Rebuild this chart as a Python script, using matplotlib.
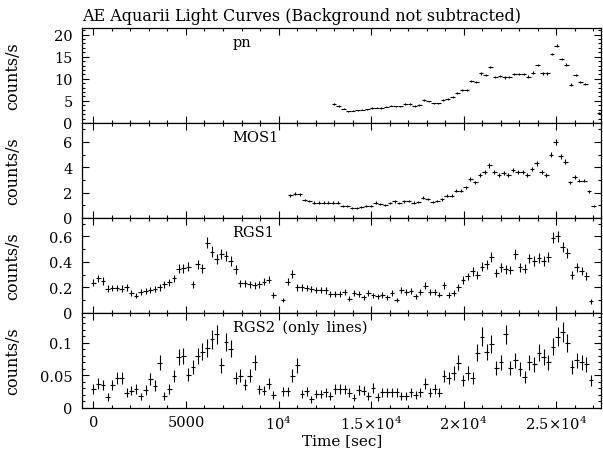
import numpy as np
import matplotlib
matplotlib.use("Agg")
import matplotlib.pyplot as plt
from matplotlib.ticker import MultipleLocator, FixedLocator

plt.rcParams['font.family'] = ['DejaVu Serif']
plt.rcParams['mathtext.fontset'] = 'dejavuserif'

nan = np.nan
BIN = 256.0  # s, bin width

# ---------------- data (count rates) ----------------
pn_first_bin = 50
pn_offset = 200.0
pn_rate = [4.3, 3.85, 3.2, 2.6, 2.75, 2.85, 3.0, 3.1, 3.4, 3.45, 3.4, 3.7, 3.9, 3.75,
           3.75, 4.3, 4.3, 3.85, 4.1, 5.2, 4.9, 4.45, 4.45, 5.15, 5.4, 5.8, 6.7, 7.5,
           7.4, 9.5, 9.2, 11.2, 10.8, 12.7, 10.4, 10.7, 10.3, 10.4, 11.15, 11.15, 11.15,
           10.5, 11.4, 13.1, 11.2, 11.2, 15.6, 17.5, 14.5, 13.2, 8.7, 10.8, 9.3, 8.85,
           nan, nan, 2.3]

mos1_first_bin = 41
mos1_offset = 145.0
mos1_rate = [1.8, 1.9, 1.85, 1.4, 1.35, 1.2, 1.2, 1.2, 1.2, 1.2, 1.2, 0.95, 0.95, 0.8,
             0.8, 0.85, 0.9, 0.9, 1.2, 1.1, 1.0, 1.15, 1.3, 1.15, 1.3, 1.35, 1.2, 1.25,
             1.6, 1.5, 1.25, 1.35, 1.45, 1.75, 1.75, 2.15, 2.15, 2.4, 3.1, 2.8, 3.4, 3.6,
             4.15, 3.6, 3.35, 3.55, 3.35, 3.75, 3.6, 3.6, 3.4, 3.85, 4.3, 3.6, 3.35, 5.0,
             6.0, 4.85, 4.45, 2.8, 3.25, 2.95, 2.95, 2.1, 0.95]

rgs1_first_bin = 0
rgs1_offset = 0.0
rgs1_rate = [0.235, 0.27, 0.25, 0.19, 0.195, 0.195, 0.19, 0.2, 0.155, 0.135, 0.16, 0.17,
             0.18, 0.185, 0.2, 0.225, 0.24, 0.27, 0.345, 0.35, 0.36, 0.225, 0.38, 0.35,
             0.55, 0.48, 0.42, 0.46, 0.445, 0.405, 0.34, 0.23, 0.23, 0.225, 0.215, 0.225,
             0.245, 0.26, 0.14, nan, 0.10, 0.245, 0.305, 0.2, 0.2, 0.195, 0.185, 0.18,
             0.18, 0.175, 0.15, 0.15, 0.15,
             0.16, 0.11, 0.153, 0.147, 0.12, 0.153, 0.137, 0.13, 0.14, 0.12, 0.153, 0.10,
             0.18, 0.163, 0.168, 0.13, 0.16, 0.213, 0.163, 0.166, 0.142, 0.216, 0.14,
             0.155, 0.2, 0.258, 0.285, 0.325, 0.3, 0.363, 0.38, 0.437, 0.31, 0.358, 0.342,
             0.337, 0.463, 0.358, 0.345, 0.426, 0.405, 0.432, 0.405, 0.437, 0.59, 0.6,
             0.516, 0.47, 0.3, 0.358, 0.326, 0.29, 0.09]

rgs2_first_bin = 0
rgs2_offset = 0.0
rgs2_rate = [0.029, 0.037, 0.035, 0.0165, 0.035, 0.046, 0.046, 0.023, 0.026, 0.029,
             0.0175, 0.027, 0.044, 0.034, 0.069, 0.0185, 0.029, 0.0485, 0.078, 0.079,
             0.051, 0.063, 0.080, 0.086, 0.092, 0.105, 0.113, 0.065, 0.1015, 0.091,
             0.046, 0.0495, 0.0355, 0.0495, 0.070, 0.028, 0.026, 0.037, 0.020, nan,
             0.025, 0.025, 0.0495, 0.065, 0.0215, 0.025, 0.013, 0.021, 0.021, 0.024,
             0.0185, 0.029, 0.029,
             0.028, 0.023, 0.015, 0.027, 0.026, 0.0185, 0.030, 0.0165, 0.024, 0.024,
             0.024, 0.024, 0.0185, 0.0185, 0.024, 0.020, 0.024, 0.037, 0.023, 0.029,
             0.023, 0.0485, 0.046, 0.0535, 0.069, 0.042, 0.0535, 0.046, 0.0845, 0.109,
             0.0855, 0.0975, 0.061, 0.070, 0.113, 0.061, 0.073, 0.059, 0.047, 0.070,
             0.0665, 0.0845, 0.078, 0.070, 0.094, 0.109, 0.1165, 0.100, 0.063, 0.073,
             0.070, 0.0665, 0.042]

# approximate Poisson-like error scale per instrument (err = c*sqrt(rate))
err_scale = {'pn': 0.08, 'MOS1': 0.085, 'RGS1': 0.058, 'RGS2': 0.044}

panel_names = ['pn', 'MOS1', 'RGS1', 'RGS2\u2002(only\u2002lines)']
panel_keys = ['pn', 'MOS1', 'RGS1', 'RGS2']
ylims = [21.5, 7.5, 0.745, 0.146]
ymajor = [5, 2, 0.2, 0.05]
yminor = [1, 1, 0.1, 0.01]
yticklabels = [['0', '5', '10', '15', '20'],
               ['0', '2', '4', '6'],
               ['0', '0.2', '0.4', '0.6'],
               ['0', '0.05', '0.1']]

xtick_vals = [0, 5000, 10000, 15000, 20000, 25000]
xtick_labels = ['0', '5000', r'$10^4$', r'$1.5{\times}10^4$', r'$2{\times}10^4$',
                r'$2.5{\times}10^4$']

series = [(pn_first_bin, pn_offset, pn_rate),
          (mos1_first_bin, mos1_offset, mos1_rate),
          (rgs1_first_bin, rgs1_offset, rgs1_rate),
          (rgs2_first_bin, rgs2_offset, rgs2_rate)]

# ---------------- figure ----------------
fig = plt.figure(figsize=(6.03, 4.52), dpi=100)
left, right = 82.3 / 603, 601 / 603
top, bottom = 1 - 29 / 452, 1 - 408.7 / 452
h = (top - bottom) / 4

for i in range(4):
    ax = fig.add_axes([left, top - (i + 1) * h, right - left, h])
    first, off, rate = series[i]
    rate = np.array(rate, dtype=float)
    t = off + BIN * (first + np.arange(len(rate)))
    err = err_scale[panel_keys[i]] * np.sqrt(np.where(np.isnan(rate), 0, rate))
    ax.errorbar(t, rate, xerr=BIN / 2, yerr=err, fmt='none', ecolor='black',
                elinewidth=0.8, capsize=0)
    ax.set_xlim(-600, 27420)
    ax.set_ylim(0, ylims[i])
    ax.xaxis.set_major_locator(FixedLocator(xtick_vals))
    ax.xaxis.set_minor_locator(MultipleLocator(1000))
    nmaj = len(yticklabels[i])
    ax.set_yticks([ymajor[i] * j for j in range(nmaj)])
    ax.set_yticklabels(yticklabels[i])
    ax.yaxis.set_minor_locator(MultipleLocator(yminor[i]))
    ax.tick_params(which='both', direction='in', top=True, right=True, width=0.8,
                   colors='black', labelsize=10.5)
    ax.tick_params(which='major', length=5)
    ax.tick_params(which='minor', length=2.5)
    ax.tick_params(axis='y', pad=7)
    ax.tick_params(axis='x', pad=5)
    for s in ax.spines.values():
        s.set_linewidth(0.9)
    if i < 3:
        ax.set_xticklabels([])
    else:
        ax.set_xticklabels(xtick_labels)
        ax.set_xlabel('Time [sec]', fontsize=11, labelpad=1)
    ax.set_ylabel('counts/s', fontsize=11.5)
    ax.yaxis.set_label_coords(-0.118, 0.5)
    ax.text(0.29, 0.85, panel_names[i], transform=ax.transAxes, fontsize=10.5,
            ha='left', va='center')
    if i == 0:
        ax.set_title('AE Aquarii Light Curves (Background not subtracted)',
                     loc='left', fontsize=11.5, pad=6)

fig.savefig('out.png', dpi=100)
